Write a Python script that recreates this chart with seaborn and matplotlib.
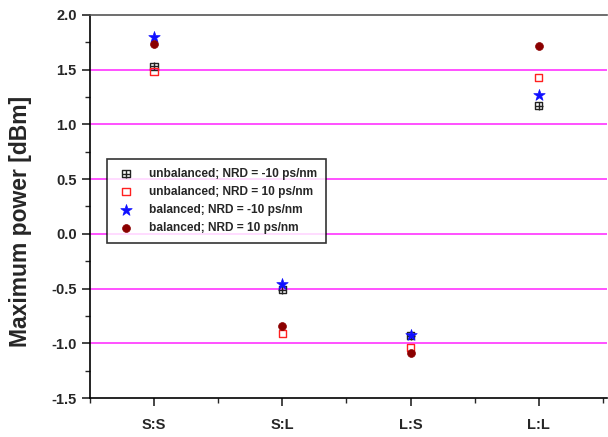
import numpy as np
import matplotlib
matplotlib.use("Agg")
import matplotlib.pyplot as plt
import seaborn as sns
import pandas as pd
from matplotlib.legend_handler import HandlerTuple
from matplotlib.ticker import MultipleLocator, FormatStrFormatter

# Données
configs = ['S:S', 'S:L', 'L:S', 'L:L']
unbal_m10 = [1.53, -0.51, -0.93, 1.17]
unbal_p10 = [1.48, -0.91, -1.04, 1.43]
bal_m10 = [1.80, -0.46, -0.92, 1.27]
bal_p10 = [1.73, -0.84, -1.09, 1.72]

labels = ['unbalanced; NRD = -10 ps/nm', 'unbalanced; NRD = 10 ps/nm',
          'balanced; NRD = -10 ps/nm', 'balanced; NRD = 10 ps/nm']

x = np.arange(1, len(configs) + 1)
df = pd.DataFrame({'x': x, 'um': unbal_m10, 'up': unbal_p10, 'bm': bal_m10, 'bp': bal_p10})

sns.set_style('white')
plt.rcParams['font.family'] = ['Liberation Sans', 'DejaVu Sans']
plt.rcParams['font.weight'] = 'bold'

fig = plt.figure(figsize=(6.08, 4.37), dpi=100)
ax = fig.add_axes([0.148, 0.089, 0.85, 0.877])

# Grille magenta
for g in [-1.0, -0.5, 0.0, 0.5, 1.0, 1.5]:
    ax.axhline(g, color='#ff33ff', lw=1.2, zorder=0)

sns.scatterplot(data=df, x='x', y='um', marker='s', s=28, facecolor='none',
                edgecolor='#222222', linewidth=1.0, ax=ax, zorder=3)
ax.scatter(df['x'], df['um'], marker='+', s=28, color='#222222', linewidths=1.0, zorder=3)
sns.scatterplot(data=df, x='x', y='up', marker='s', s=28, facecolor='none',
                edgecolor='#ff2020', linewidth=1.0, ax=ax, zorder=3)
sns.scatterplot(data=df, x='x', y='bm', marker='*', s=75, color='#1010ff',
                edgecolor='#1010ff', linewidth=0.5, ax=ax, zorder=3)
sns.scatterplot(data=df, x='x', y='bp', marker='o', s=32, color='#8b0000',
                edgecolor='#8b0000', linewidth=0.5, ax=ax, zorder=3)

cols = ax.collections
handles = [(cols[0], cols[1]), cols[2], cols[3], cols[4]]
leg = ax.legend(handles, labels, handler_map={tuple: HandlerTuple(ndivide=1, pad=0)},
                loc='upper left', bbox_to_anchor=(0.022, 0.64), fontsize=8.6,
                frameon=True, fancybox=False, edgecolor='black', borderpad=0.75,
                handlelength=1.6, handletextpad=1.1, labelspacing=0.5)
leg.get_frame().set_linewidth(1.2)
for t in leg.get_texts():
    t.set_fontweight('bold')

ax.set_xlim(0.5, 4.53)
ax.set_ylim(-1.5, 2.0)
ax.set_xticks(x)
ax.set_xticklabels(configs, fontsize=10.5, fontweight='bold')
ax.xaxis.set_minor_locator(MultipleLocator(0.5))
ax.yaxis.set_major_locator(MultipleLocator(0.5))
ax.yaxis.set_minor_locator(MultipleLocator(0.25))
ax.yaxis.set_major_formatter(FormatStrFormatter('%.1f'))
for t in ax.get_yticklabels():
    t.set_fontweight('bold')
    t.set_fontsize(10.5)
ax.tick_params(which='major', direction='out', length=6, width=1.2, left=True, bottom=True)
ax.tick_params(which='minor', direction='out', length=3.5, width=1.0, left=True, bottom=True)
ax.tick_params(axis='x', pad=8)

ax.set_xlabel('')
ax.set_ylabel('Maximum power [dBm]', fontsize=16.5, fontweight='bold')
ax.yaxis.set_label_coords(-0.112, 0.46)

for s in ['left', 'bottom', 'top']:
    ax.spines[s].set_visible(True)
    ax.spines[s].set_color('black')
    ax.spines[s].set_linewidth(1.2)
ax.spines['top'].set_color('#555555')
ax.spines['right'].set_visible(False)

fig.savefig('out.png', dpi=100)
